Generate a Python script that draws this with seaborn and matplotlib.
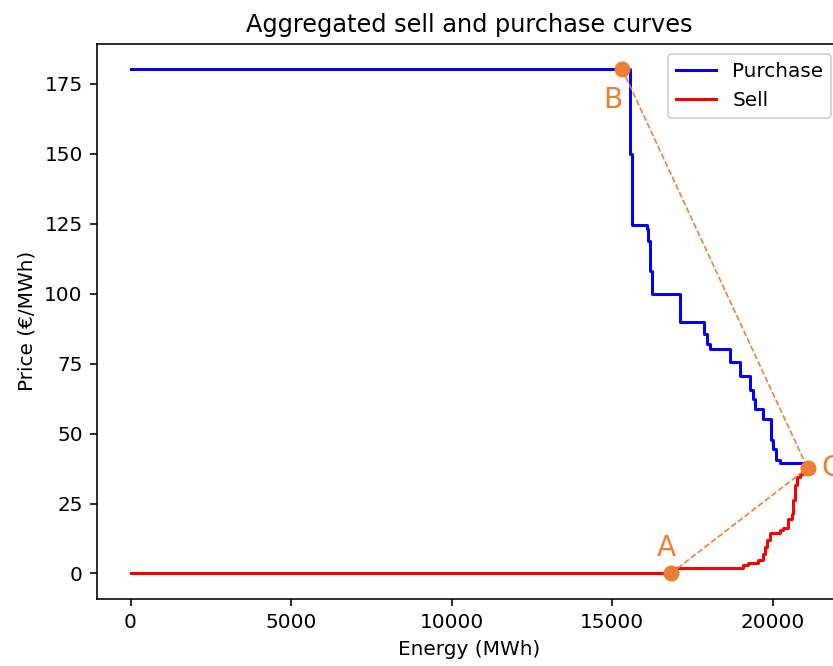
import matplotlib
matplotlib.use("Agg")
import matplotlib.pyplot as plt
import seaborn as sns

# Curva agregada de compra (escalones)
purchase_energy = [0, 15555, 15607, 16075, 16125, 16178, 16231, 17115, 17860, 17944,
                   18047, 18670, 18981, 19293, 19396, 19449, 19688, 19938, 20019,
                   20103, 20227, 21000]
purchase_price = [180.3, 150, 124.6, 123.3, 119, 108.3, 100, 90, 85.7, 82.1,
                  80.4, 75.6, 70.5, 65.7, 62.5, 58.9, 55.4, 47.6, 44.6,
                  40.5, 39.5, 39.5]

# Curva agregada de venta (escalones)
sell_energy = [0, 16830, 19085, 19240, 19551, 19688, 19760, 19840, 19920, 20227,
               20330, 20486, 20592, 20642, 20695, 20748, 20850, 20953, 21090]
sell_price = [0, 1.8, 2.9, 3.8, 4.75, 7.1, 9.5, 11.9, 14.3, 15.7,
              16.4, 19.6, 21.4, 26.2, 31.5, 34.5, 35.7, 36.9, 37.7]

# Puntos A, B, C
point_names = ["A", "B", "C"]
point_energy = [16830, 15315, 21090]
point_price = [0, 180.3, 37.7]

orange = "#ED7D31"

fig = plt.figure(figsize=(833 / 144, 666 / 144), dpi=144)
ax = fig.add_axes([0.1161, 0.1011, 0.894, 0.8329])

sns.lineplot(x=purchase_energy, y=purchase_price, drawstyle="steps-post",
             color="blue", label="Purchase", ax=ax)
sns.lineplot(x=sell_energy, y=sell_price, drawstyle="steps-post",
             color="red", label="Sell", ax=ax)

# Lineas discontinuas A-C y B-C
a, b, c = 0, 1, 2
for i in (a, b):
    ax.plot([point_energy[i], point_energy[c]], [point_price[i], point_price[c]],
            linestyle="--", color=orange, linewidth=0.8)

ax.plot(point_energy, point_price, "o", color=orange, markersize=7, zorder=5)

offsets = {"A": (-2, 12.5), "B": (-4.7, -15.4), "C": (12, 0)}
for name, x, y in zip(point_names, point_energy, point_price):
    ax.annotate(name, (x, y), xytext=offsets[name], textcoords="offset points",
                ha="center", va="center", fontsize=14, color=orange)

ax.set_title("Aggregated sell and purchase curves")
ax.set_xlabel("Energy (MWh)")
ax.set_ylabel("Price (€/MWh)")
ax.legend(loc="upper right")

fig.savefig("out.png", dpi=144)
